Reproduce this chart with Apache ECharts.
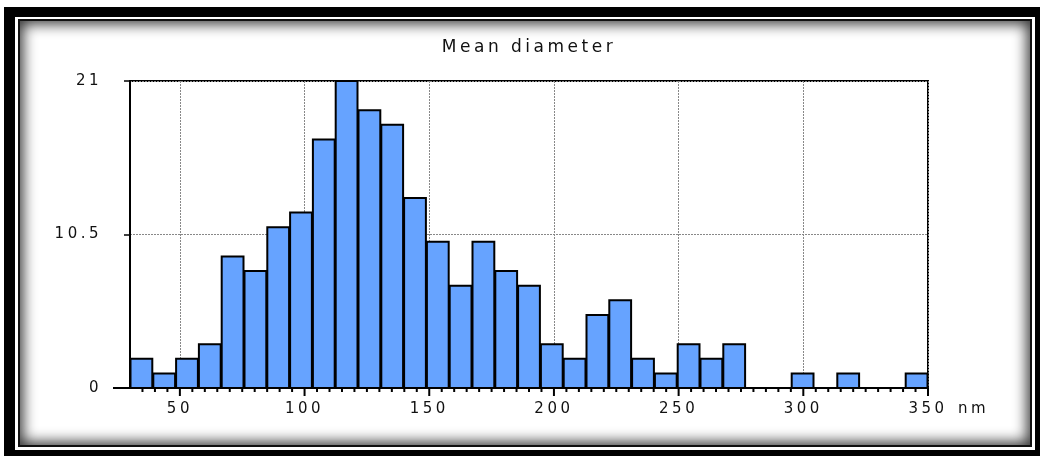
<!DOCTYPE html>
<html><head><meta charset="utf-8">
<script src="https://cdn.jsdelivr.net/npm/echarts@6/dist/echarts.min.js"></script>
<style>
html,body{margin:0;padding:0;background:#fff;width:1040px;height:456px;overflow:hidden;}
#outer{position:absolute;left:4px;top:7px;width:1036px;height:449px;background:#000;}
#gap{position:absolute;left:15px;top:17px;width:1020px;height:433px;background:#fff;}
#panel{position:absolute;left:18px;top:19px;width:1010px;height:424px;border:2px solid #111;background:#fff;box-shadow:inset 0 0 14px 3px rgba(0,0,0,0.8);}
#chart{position:absolute;left:0;top:0;width:1040px;height:456px;}
</style>
</head><body>
<div id="outer"></div><div id="gap"></div><div id="panel"></div>
<div id="chart"></div>
<script>
// wide letter spacing for all chart text (the original uses a widely spaced font)
(function () {
  const P = CanvasRenderingContext2D.prototype;
  ['fillText', 'strokeText', 'measureText'].forEach(function (fn) {
    const orig = P[fn];
    P[fn] = function () {
      try { this.letterSpacing = '3.5px'; } catch (e) {}
      return orig.apply(this, arguments);
    };
  });
})();

// ---- data ----
const titleText = 'Mean diameter';
const xUnit = 'nm';
const binStart = 30;
const binEnd = 350;
const counts = [2,1,2,3,9,8,11,12,17,21,19,18,13,10,7,10,8,7,3,2,5,6,2,1,3,2,3,0,0,1,0,1,0,0,1];
const xMajorTicks = [50,100,150,200,250,300,350];
const xMinorTicks = [35,40,45,55,60,65,70,75,80,85,90,95,105,110,115,120,125,130,135,140,145,155,160,165,170,175,180,185,190,195,205,210,215,220,225,230,235,240,245,255,260,265,270,275,280,285,290,295,305,310,315,320,325,330,335,340,345];
const yMax = 21;
const yStep = 10.5;

const binW = (binEnd - binStart) / counts.length;
const barData = counts.map((c, i) => [binStart + i * binW, binStart + (i + 1) * binW, c]);

function tickSeries(values, len) {
  return {
    type: 'custom', xAxisIndex: 0, yAxisIndex: 0, clip: false, silent: true, z: 5,
    encode: {x: 0, y: 1},
    data: values.map(v => [v, 0]),
    renderItem: function (params, api) {
      const p = api.coord([api.value(0), 0]);
      return {type: 'rect', shape: {x: p[0] - 1, y: p[1], width: 2, height: len},
              style: {fill: '#000'}};
    }
  };
}

const FONT = '"DejaVu Sans", sans-serif';
const chart = echarts.init(document.getElementById('chart'), null, {renderer: 'canvas', width: 1040, height: 456});
chart.setOption({
  backgroundColor: 'transparent',
  animation: false,
  grid: {left: 130, right: 112, top: 81, bottom: 68, show: true, borderColor: '#000', borderWidth: 2, backgroundColor: 'transparent'},
  graphic: [{
    type: 'text', x: 529, y: 48,
    style: {text: titleText, fill: '#111', font: '17px ' + FONT, align: 'center', verticalAlign: 'middle'}
  }],
  xAxis: {
    type: 'value', min: binStart, max: binEnd, position: 'bottom',
    name: xUnit, nameLocation: 'end', nameGap: 30,
    nameTextStyle: {color: '#111', fontFamily: FONT, fontSize: 15, verticalAlign: 'top', padding: [12, 0, 0, 0]},
    axisLine: {show: true, onZero: false, lineStyle: {color: '#000', width: 2}},
    axisTick: {show: false, customValues: xMajorTicks},
    axisLabel: {show: true, customValues: xMajorTicks, margin: 12, color: '#111', fontFamily: FONT, fontSize: 15},
    splitLine: {show: true, lineStyle: {color: '#888', type: [2, 1], width: 1}}
  },
  yAxis: {
    type: 'value', min: 0, max: yMax, interval: yStep,
    axisLine: {show: true, lineStyle: {color: '#000', width: 2}},
    axisTick: {show: true, length: 6, lineStyle: {color: '#000', width: 1.5}},
    axisLabel: {margin: 28, color: '#111', fontFamily: FONT, fontSize: 15},
    splitLine: {show: true, lineStyle: {color: '#888', type: [2, 1], width: 1}}
  },
  series: [{
    type: 'custom', xAxisIndex: 0, yAxisIndex: 0,
    encode: {x: [0, 1], y: 2},
    data: barData,
    renderItem: function (params, api) {
      const v = api.value(2);
      if (!v) return null;
      const p0 = api.coord([api.value(0), v]);
      const p1 = api.coord([api.value(1), 0]);
      return {
        type: 'rect',
        shape: {x: p0[0] + 0.5, y: p0[1], width: p1[0] - p0[0] - 1, height: p1[1] - p0[1]},
        style: {fill: '#66a3ff', stroke: '#000', lineWidth: 2}
      };
    }
  },
  tickSeries(xMinorTicks, 4),
  tickSeries(xMajorTicks, 8),
  {
    // longer baseline tick at y = 0 on the left
    type: 'custom', xAxisIndex: 0, yAxisIndex: 0, clip: false, silent: true, z: 5,
    encode: {x: 0, y: 1},
    data: [[binStart, 0]],
    renderItem: function (params, api) {
      const p = api.coord([api.value(0), api.value(1)]);
      return {type: 'rect', shape: {x: p[0] - 17, y: p[1] - 1, width: 17, height: 2}, style: {fill: '#000'}};
    }
  }
  ]
});
</script>
</body></html>
